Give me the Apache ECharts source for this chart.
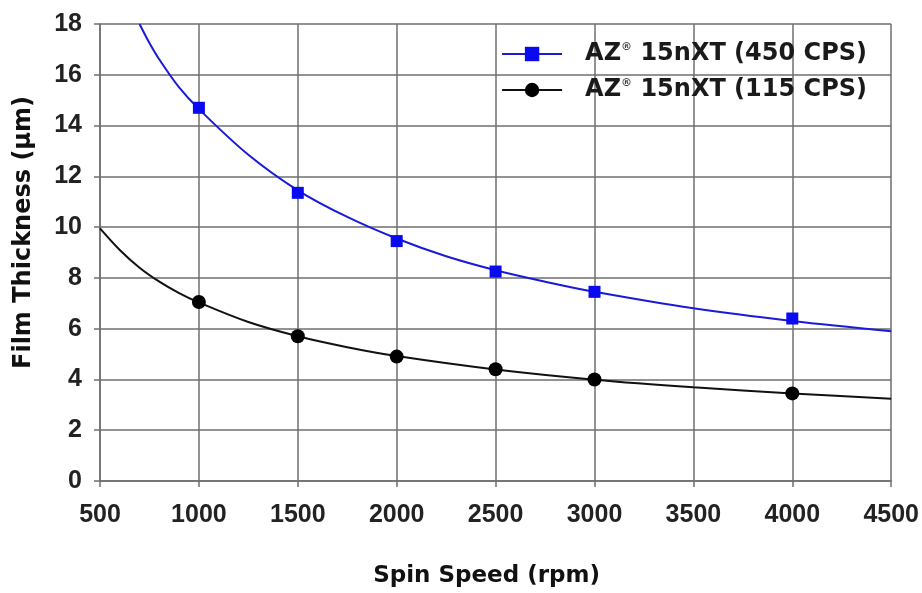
<!DOCTYPE html>
<html><head><meta charset="utf-8">
<script src="https://cdn.jsdelivr.net/npm/echarts@6/dist/echarts.min.js"></script>
<style>html,body{margin:0;padding:0;background:#fff}#c{width:922px;height:593px}</style>
</head><body><div id="c"></div>
<script>
const seriesNames = ['AZ® 15nXT (450 CPS)', 'AZ® 15nXT (115 CPS)'];
// measured marker points
const speedsBlue = [1000, 1500, 2000, 2500, 3000, 4000];
const thickBlue = [14.7, 11.35, 9.45, 8.25, 7.45, 6.4];
const speedsBlack = [1000, 1500, 2000, 2500, 3000, 4000];
const thickBlack = [7.05, 5.7, 4.9, 4.4, 4.0, 3.45];
// fitted curves
const curveBlueX = [700, 750, 800, 900, 1000, 1250, 1500, 1750, 2000, 2250, 2500, 2750, 3000, 3500, 4000, 4500];
const curveBlueY = [18.0, 17.25, 16.6, 15.5, 14.65, 12.85, 11.45, 10.4, 9.55, 8.85, 8.3, 7.85, 7.45, 6.8, 6.3, 5.9];
const curveBlackX = [500, 600, 700, 800, 900, 1000, 1250, 1500, 1750, 2000, 2500, 3000, 3500, 4000, 4500];
const curveBlackY = [9.95, 9.1, 8.4, 7.85, 7.4, 7.03, 6.26, 5.7, 5.27, 4.92, 4.39, 3.99, 3.69, 3.45, 3.24];
const xTicks = [500, 1000, 1500, 2000, 2500, 3000, 3500, 4000, 4500];
const yTicks = [0, 2, 4, 6, 8, 10, 12, 14, 16, 18];

const zip = (a, b) => a.map((v, i) => [v, b[i]]);
const gridColor = '#6f6f6f';
const tickFont = 'Liberation Sans, Arial, sans-serif';
const titleFont = 'DejaVu Sans, sans-serif';
const chart = echarts.init(document.getElementById('c'));
chart.setOption({
  animation: false,
  backgroundColor: '#fff',
  grid: {left: 100, right: 30, top: 24, bottom: 110, containLabel: false},
  legend: {
    right: 55, top: 42, orient: 'vertical', itemGap: 12, padding: 0,
    itemWidth: 60, itemHeight: 18,
    data: seriesNames,
    formatter: n => {
      const rest = n.replace('AZ® ', ' ');
      return '{a|AZ}{s|®}{a|' + rest + '}';
    },
    textStyle: {
      padding: [0, 0, 0, 18],
      rich: {
        a: {fontFamily: titleFont, fontWeight: 'bold', fontSize: 24, color: '#1a1a1a'},
        s: {fontFamily: titleFont, fontWeight: 'bold', fontSize: 11, color: '#444', verticalAlign: 'top', padding: [0, 0, 10, 0]}
      }
    }
  },
  xAxis: {
    type: 'value', min: 500, max: 4500, interval: 500,
    name: 'Spin Speed (rpm)', nameLocation: 'middle', nameGap: 84,
    nameTextStyle: {fontFamily: titleFont, fontWeight: 'bold', fontSize: 23, color: '#111', padding: [0, 18, 0, 0]},
    axisLine: {show: true, onZero: false, lineStyle: {color: gridColor, width: 1.5}},
    axisTick: {show: true, length: 6, lineStyle: {color: gridColor, width: 1.5}},
    axisLabel: {margin: 22, fontFamily: tickFont, fontWeight: 'bold', fontSize: 25, color: '#222',
      formatter: v => xTicks.includes(v) ? String(v) : ''},
    splitLine: {show: true, lineStyle: {color: gridColor, width: 1.5}}
  },
  yAxis: {
    type: 'value', min: 0, max: 18, interval: 2,
    name: 'Film Thickness (µm)', nameLocation: 'middle', nameGap: 64,
    nameTextStyle: {fontFamily: titleFont, fontWeight: 'bold', fontSize: 24, color: '#111', padding: [0, 0, 0, 40]},
    axisLine: {show: true, lineStyle: {color: gridColor, width: 1.5}},
    axisTick: {show: true, length: 6, lineStyle: {color: gridColor, width: 1.5}},
    axisLabel: {margin: 18, fontFamily: tickFont, fontWeight: 'bold', fontSize: 25, color: '#222',
      formatter: v => yTicks.includes(v) ? String(v) : ''},
    splitLine: {show: true, lineStyle: {color: gridColor, width: 1.5}}
  },
  series: [
    {name: seriesNames[0], type: 'line', smooth: 0.35, data: zip(curveBlueX, curveBlueY),
      symbol: 'rect', symbolSize: 12, showSymbol: false, silent: true,
      lineStyle: {color: '#1a1ad8', width: 2}, itemStyle: {color: '#0a0af0'}, z: 3},
    {name: seriesNames[1], type: 'line', smooth: 0.35, data: zip(curveBlackX, curveBlackY),
      symbol: 'circle', symbolSize: 14, showSymbol: false, silent: true,
      lineStyle: {color: '#111', width: 2}, itemStyle: {color: '#000'}, z: 3},
    {name: seriesNames[0], type: 'scatter', data: zip(speedsBlue, thickBlue),
      symbol: 'rect', symbolSize: 12, itemStyle: {color: '#0a0af0', opacity: 1}, z: 4},
    {name: seriesNames[1], type: 'scatter', data: zip(speedsBlack, thickBlack),
      symbol: 'circle', symbolSize: 14, itemStyle: {color: '#000', opacity: 1}, z: 4}
  ]
});
</script></body></html>
